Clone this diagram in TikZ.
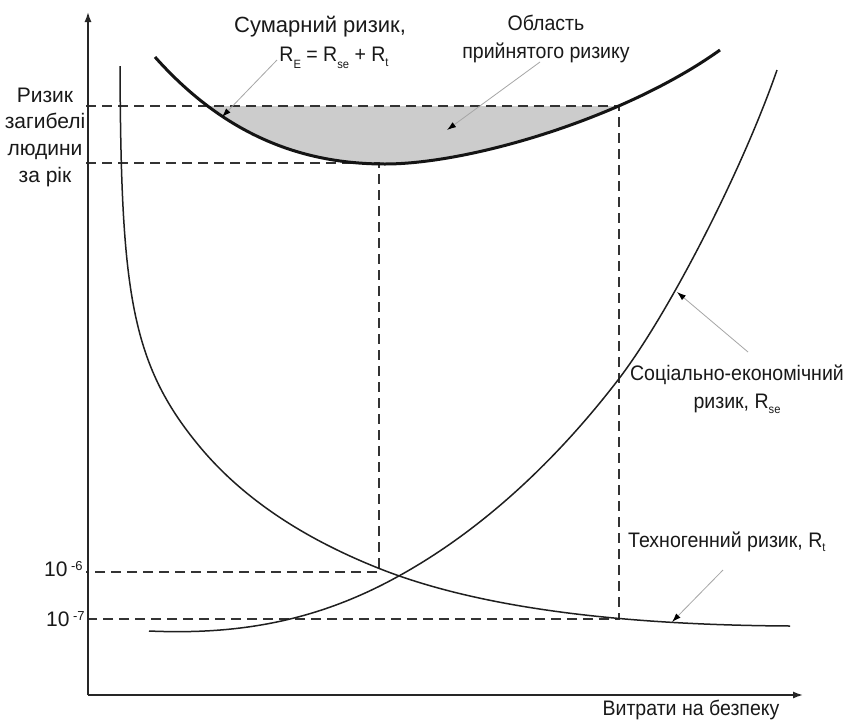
\documentclass[tikz,border=0pt]{standalone}
\usepackage{fontspec}
\setmainfont{Liberation Sans}[FakeStretch=0.93]
\newfontfamily\widefont{Liberation Sans}
\usetikzlibrary{arrows.meta}
\newcommand\dsub[2][6pt]{\raisebox{-#1}{\fontsize{12}{12}\selectfont #2}}
\newcommand\usup[1]{\raisebox{6.5pt}{\fontsize{13}{13}\selectfont #1}}
\begin{document}
\begin{tikzpicture}[x=1pt,y=-1pt,
  font=\fontsize{21}{28}\selectfont,
  lbl/.style={inner sep=0pt, text=black!90},
  riskcurve/.style={line width=1.5pt, black!88},
  totalcurve/.style={line width=3pt, black!92},
  guide/.style={dash pattern=on 10pt off 6pt, line width=1.4pt, black!80},
  pointer/.style={black!35, line width=0.8pt, -{Latex[length=9pt,width=6pt,black]}},
  axisline/.style={line width=1.5pt, black!85, -{Latex[length=10pt,width=7pt]}}]
\useasboundingbox[fill=white] (0,0) rectangle (849,721);

% accepted-risk area
\begin{scope}
  \clip (0,106) rectangle (849,721);
  \fill[black!20] (155,57) .. controls (220,130) and (295,164) .. (385,164)
     .. controls (470,164) and (625,118) .. (720,50) -- (720,0) -- (155,0) -- cycle;
\end{scope}

% guide lines
\coordinate (g1) at (86,106);  \coordinate (g2) at (619,106);
\coordinate (g3) at (86,163);  \coordinate (g4) at (379,163);
\coordinate (g5) at (86,572);  \coordinate (g6) at (379,572);
\coordinate (g7) at (86,619);  \coordinate (g8) at (619,619);
\draw[guide] (g1) -- (g2) -- (g8) -- (g7);
\draw[guide] (g3) -- (g4) -- (g6) -- (g5);

% axes
\coordinate (o) at (88,695);
\coordinate (ytip) at (88,12);
\coordinate (xtip) at (803,695);
\draw[axisline] (o) -- (ytip);
\draw[axisline] (o) -- (xtip);

% curves
\coordinate (t0) at (120,66); \coordinate (t1) at (200,447);
\coordinate (t2) at (378,568); \coordinate (t3) at (790,626);
\draw[riskcurve] (t0) .. controls (121,290) and (130,363) .. (t1)
   .. controls (250,507) and (318,544) .. (t2)
   .. controls (478,608) and (620,625) .. (t3);
\coordinate (s0) at (149,631); \coordinate (s1) at (397,577);
\coordinate (s2) at (618,380); \coordinate (s3) at (777,70);
\draw[riskcurve] (s0) .. controls (239,635) and (317,621) .. (s1)
   .. controls (472,536) and (548,471) .. (s2)
   .. controls (668,315) and (742,171) .. (s3);
\coordinate (r0) at (155,57); \coordinate (r1) at (385,164); \coordinate (r2) at (720,50);
\draw[totalcurve] (r0) .. controls (220,130) and (295,164) .. (r1)
   .. controls (470,164) and (625,118) .. (r2);

% labels
\node[lbl, align=center, font=\widefont\fontsize{21}{26.7}\selectfont] (ylab) at (45,137) {Ризик\\загибелі\\людини\\за рік};
\node[lbl, font=\widefont\fontsize{22}{26}\selectfont] (sumtitle) at (320,27) {Сумарний ризик,};
\node[lbl] (sumeq) at (334,58) {R\dsub[7pt]{E} = R\dsub[7pt]{se} + R\dsub[5pt]{t}};
\node[lbl, align=center] (area) at (546,39) {Область\\прийнятого ризику};
\node[lbl, align=center] (soc) at (737,389) {Соціально-економічний\\ризик, R\dsub[5pt]{se}};
\node[lbl, anchor=west] (tech) at (628,542) {Техногенний ризик, R\dsub[4pt]{t}};
\node[lbl] (xlab) at (691,710) {Витрати на безпеку};
\node[lbl, anchor=west, font=\widefont\fontsize{21}{26}\selectfont] (e6) at (44,569) {10\,\usup{-6}};
\node[lbl, anchor=west, font=\widefont\fontsize{21}{26}\selectfont] (e7) at (46,619) {10\,\usup{-7}};

% pointers
\coordinate (p1a) at (277,60); \coordinate (p1b) at (222,117);
\coordinate (p2a) at (540,62); \coordinate (p2b) at (447,130);
\coordinate (p3a) at (748,352); \coordinate (p3b) at (677,292);
\coordinate (p4a) at (723,570); \coordinate (p4b) at (672,622);
\draw[pointer] (p1a) -- (p1b);
\draw[pointer] (p2a) -- (p2b);
\draw[pointer] (p3a) -- (p3b);
\draw[pointer] (p4a) -- (p4b);
\end{tikzpicture}
\end{document}
